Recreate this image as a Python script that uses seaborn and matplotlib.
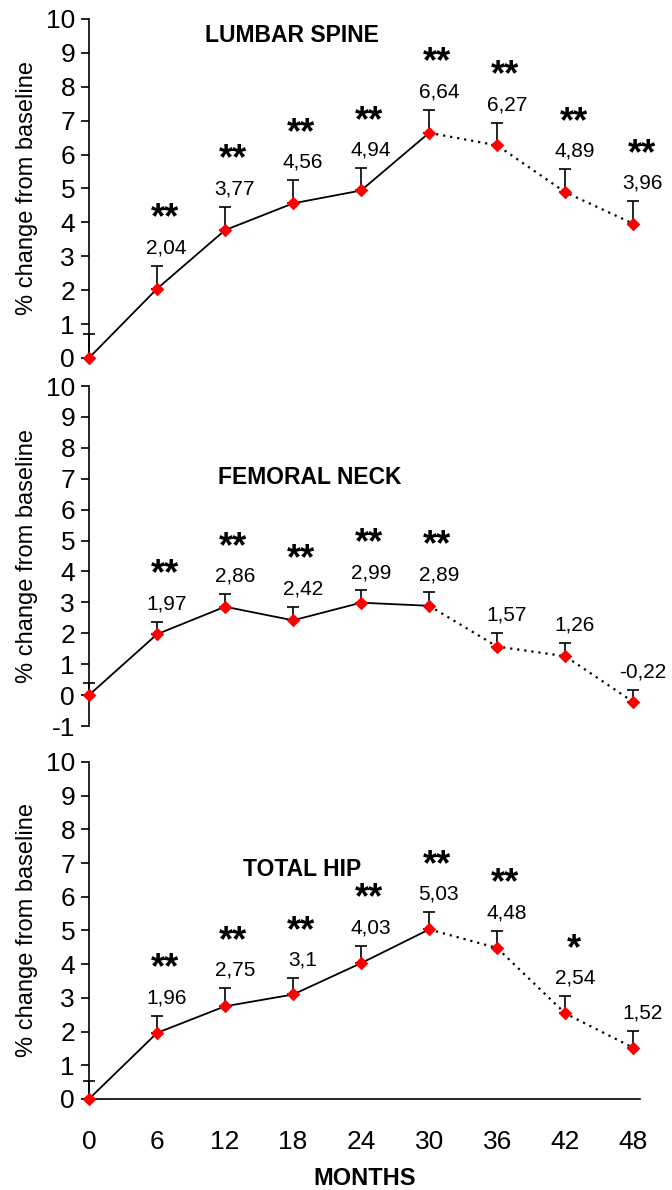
import numpy as np
import pandas as pd
import matplotlib
matplotlib.use("Agg")
import matplotlib.pyplot as plt
import seaborn as sns

months = [0, 6, 12, 18, 24, 30, 36, 42, 48]

spine = [0, 2.04, 3.77, 4.56, 4.94, 6.64, 6.27, 4.89, 3.96]
spine_err = [0.71, 0.68, 0.69, 0.69, 0.66, 0.68, 0.67, 0.68, 0.67]
spine_sig = ["", "**", "**", "**", "**", "**", "**", "**", "**"]

neck = [0, 1.97, 2.86, 2.42, 2.99, 2.89, 1.57, 1.26, -0.22]
neck_err = [0.39, 0.41, 0.41, 0.44, 0.40, 0.43, 0.44, 0.44, 0.40]
neck_sig = ["", "**", "**", "**", "**", "**", "", "", ""]

hip = [0, 1.96, 2.75, 3.1, 4.03, 5.03, 4.48, 2.54, 1.52]
hip_err = [0.53, 0.51, 0.54, 0.49, 0.52, 0.51, 0.51, 0.52, 0.51]
hip_sig = ["", "**", "**", "**", "**", "**", "**", "*", ""]

titles = ["LUMBAR SPINE", "FEMORAL NECK", "TOTAL HIP"]

sns.set_style("white")
plt.rcParams["font.family"] = ["Liberation Sans", "DejaVu Sans"]
plt.rcParams["axes.unicode_minus"] = False
plt.rcParams["text.color"] = "black"
plt.rcParams["axes.labelcolor"] = "black"
plt.rcParams["xtick.color"] = "black"
plt.rcParams["ytick.color"] = "black"

fig = plt.figure(figsize=(6.72, 11.9), dpi=100)
boxes = [[0.1324, 0.6992, 0.82, 0.2849],
         [0.1324, 0.3899, 0.82, 0.2857],
         [0.1324, 0.0765, 0.82, 0.2832]]
ylims = [(0, 10), (-1, 10), (0, 10)]
title_pos = [(17.9, 9.5), (19.5, 7.05), (18.8, 6.8)]

panels = [(spine, spine_err, spine_sig), (neck, neck_err, neck_sig), (hip, hip_err, hip_sig)]

for i, (vals, errs, sig) in enumerate(panels):
    ax = fig.add_axes(boxes[i])
    df = pd.DataFrame({"month": months, "val": vals, "err": errs})
    solid = df[df["month"] <= 30]
    dotted = df[df["month"] >= 30]
    sns.lineplot(data=solid, x="month", y="val", ax=ax, color="black", lw=1.3)
    sns.lineplot(data=dotted, x="month", y="val", ax=ax, color="black", lw=1.6, linestyle=(0, (1, 2.2)))
    ax.errorbar(df["month"], df["val"], yerr=[np.zeros(len(df)), df["err"]], fmt="none",
                ecolor="black", elinewidth=1.2, capsize=4.5, capthick=1.2, clip_on=False)
    sns.scatterplot(data=df, x="month", y="val", ax=ax, marker="D", color="red", s=48,
                    edgecolor="red", linewidth=0, zorder=5, clip_on=False)

    for m, v, e, s in zip(months, vals, errs, sig):
        if m == 0:
            continue
        ax.annotate(f"{v:g}".replace(".", ","), xy=(m, v + e), xytext=(7, 6),
                    textcoords="offset points", ha="center", va="bottom", fontsize=15)
        if s:
            ax.annotate(s, xy=(m, v + e), xytext=(6, 21), textcoords="offset points",
                        ha="center", va="bottom", fontsize=26, fontweight="bold")

    ax.text(title_pos[i][0], title_pos[i][1], titles[i], ha="center", va="center",
            fontsize=16.5, fontweight="bold")

    ax.set_xlim(0, 48.6)
    ax.set_ylim(*ylims[i])
    ax.set_yticks(range(ylims[i][0], 11))
    ax.tick_params(axis="y", direction="out", length=6, width=1.2, left=True, labelsize=19, pad=4)
    ax.set_ylabel("% change from baseline", fontsize=17, labelpad=6)
    ax.set_xlabel("")
    for sp in ["top", "right"]:
        ax.spines[sp].set_visible(False)
    ax.spines["left"].set_linewidth(1.2)
    ax.spines["left"].set_color("black")
    if i < 2:
        ax.spines["bottom"].set_visible(False)
        ax.set_xticks([])
    else:
        ax.spines["bottom"].set_linewidth(1.2)
        ax.spines["bottom"].set_color("black")
        ax.set_xticks(months)
        ax.tick_params(axis="x", length=0, labelsize=19, pad=22)
        ax.set_xlabel("MONTHS", fontsize=17, fontweight="bold", labelpad=10)

fig.savefig("out.png", dpi=100)
